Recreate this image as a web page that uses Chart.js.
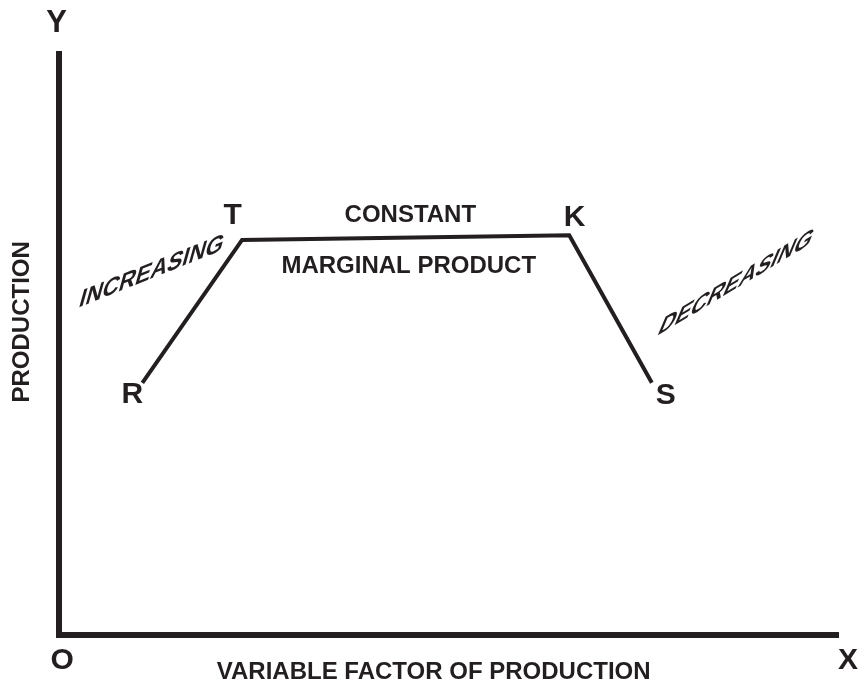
<!DOCTYPE html>
<html>
<head>
<meta charset="utf-8">
<script src="https://cdn.jsdelivr.net/npm/chart.js@4/dist/chart.umd.min.js"></script>
<style>
  html, body { margin: 0; padding: 0; background: #fff; }
  #wrap { width: 859px; height: 689px; }
</style>
</head>
<body>
<div id="wrap"><canvas id="chart" width="859" height="689"></canvas></div>
<script>
// points of the curve R - T - K - S
const pointNames = ['R', 'T', 'K', 'S'];
const xValues = [10.7, 23.5, 65.5, 76.1];
const yValues = [43.4, 68.0, 68.8, 43.4];

const ink = '#231f20';
const font = 'bold {s}px "Liberation Sans", Arial, sans-serif';

// text notes, placed in data units; skew = [a, b, c] for the slanted words
const notes = [
  { text: 'Y', x: -0.3, y: 105.3, size: 31 },
  { text: 'O', x: 0.4, y: -4.5, size: 30 },
  { text: 'X', x: 101.3, y: -4.5, size: 30 },
  { text: 'R', x: 9.4, y: 41.3, size: 30 },
  { text: 'T', x: 22.3, y: 72.1, size: 30 },
  { text: 'K', x: 66.2, y: 71.9, size: 30 },
  { text: 'S', x: 77.9, y: 41.1, size: 30 },
  { text: 'CONSTANT', x: 45.1, y: 72.3, size: 24 },
  { text: 'MARGINAL PRODUCT', x: 44.9, y: 63.5, size: 24 },
  { text: 'VARIABLE FACTOR OF PRODUCTION', x: 48.1, y: -6.5, size: 24 },
  { text: 'PRODUCTION', x: -4.75, y: 53.9, size: 24, rot: -Math.PI / 2 },
  { text: 'INCREASING', x: 11.9, y: 62.5, size: 26, skew: [0.88, -0.352, -0.28] },
  { text: 'DECREASING', x: 86.9, y: 60.6, size: 27, skew: [0.85, -0.51, -0.42] }
];

const notesPlugin = {
  id: 'notes',
  afterDraw(chart) {
    const ctx = chart.ctx;
    const sx = chart.scales.x, sy = chart.scales.y;
    notes.forEach(n => {
      ctx.save();
      ctx.translate(sx.getPixelForValue(n.x), sy.getPixelForValue(n.y));
      if (n.rot) ctx.rotate(n.rot);
      if (n.skew) ctx.transform(n.skew[0], n.skew[1], n.skew[2], 1, 0, 0);
      ctx.font = font.replace('{s}', n.size);
      ctx.fillStyle = ink;
      ctx.textAlign = 'center';
      ctx.textBaseline = 'middle';
      ctx.fillText(n.text, 0, 0);
      ctx.restore();
    });
  }
};

const axisOpts = {
  min: 0,
  max: 100,
  ticks: { display: false },
  grid: { display: false, drawTicks: false },
  border: { display: true, width: 6, color: ink }
};

new Chart(document.getElementById('chart'), {
  type: 'scatter',
  data: {
    datasets: [{
      data: xValues.map((x, i) => ({ x: x, y: yValues[i], name: pointNames[i] })),
      showLine: true,
      borderColor: ink,
      borderWidth: 4,
      borderJoinStyle: 'miter',
      pointRadius: 0,
      fill: false
    }]
  },
  options: {
    responsive: false,
    animation: false,
    layout: { padding: { top: 54, right: 21, bottom: 0, left: 0 } },
    plugins: { legend: { display: false }, tooltip: { enabled: false } },
    scales: {
      x: Object.assign({}, axisOpts, { afterFit: s => { s.height = 54; } }),
      y: Object.assign({}, axisOpts, { afterFit: s => { s.width = 59; } })
    }
  },
  plugins: [notesPlugin]
});
</script>
</body>
</html>
